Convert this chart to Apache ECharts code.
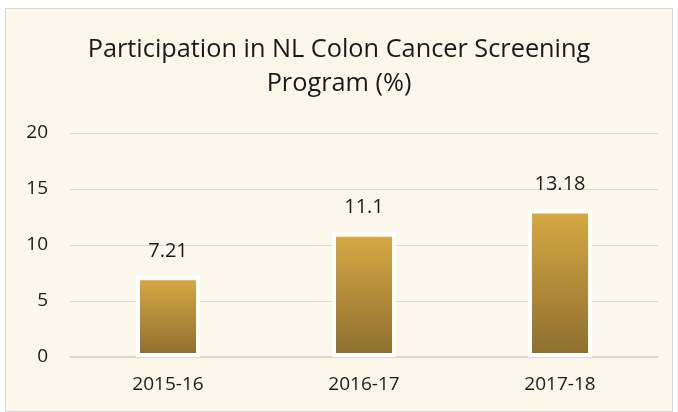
<!DOCTYPE html>
<html>
<head>
<meta charset="utf-8">
<script src="https://cdn.jsdelivr.net/npm/echarts@6/dist/echarts.min.js"></script>
<style>
  html, body { margin: 0; padding: 0; background: #ffffff; }
  #chart {
    position: absolute; left: 5px; top: 8px;
    width: 666px; height: 402px;
    background: #fcf7eb; border: 1px solid #d9d9d9;
  }
</style>
</head>
<body>
<div id="chart"></div>
<script>
// data
const years = ['2015-16', '2016-17', '2017-18']
const participation = [7.21, 11.1, 13.18]

const chart = echarts.init(document.getElementById('chart'))
const option = {
  backgroundColor: 'transparent',
  textStyle: { fontFamily: 'Open Sans, sans-serif' },
  title: {
    text: 'Participation in NL Colon Cancer Screening\nProgram (%)',
    left: 'center',
    top: 19,
    padding: [5, 0, 5, 24],
    textStyle: {
      fontSize: 25.3,
      fontWeight: 'normal',
      color: '#1a1a1a',
      lineHeight: 34,
      fontFamily: 'Open Sans, sans-serif',
    },
  },
  grid: {
    left: 64,
    right: 14,
    top: 124,
    bottom: 54,
  },
  xAxis: {
    type: 'category',
    data: years,
    axisTick: { show: false },
    axisLine: { lineStyle: { color: '#d9d9d9', width: 2 } },
    axisLabel: { fontSize: 19, color: '#1a1a1a', margin: 18 },
  },
  yAxis: {
    type: 'value',
    min: 0,
    max: 20,
    interval: 5,
    axisLine: { show: false },
    axisTick: { show: false },
    axisLabel: { fontSize: 19, color: '#1a1a1a', margin: 22 },
    splitLine: { lineStyle: { color: '#d9d9d9', width: 1 } },
  },
  series: [
    {
      type: 'bar',
      data: participation,
      barWidth: 64,
      itemStyle: {
        color: new echarts.graphic.LinearGradient(0, 0, 0, 1, [
          { offset: 0, color: '#d8aa44' },
          { offset: 1, color: '#8d6e2f' },
        ]),
        borderColor: '#ffffff',
        borderWidth: 4,
      },
      label: {
        show: true,
        position: 'top',
        distance: 15,
        fontSize: 20,
        color: '#1a1a1a',
      },
    },
  ],
}
chart.setOption(option)
</script>
</body>
</html>
